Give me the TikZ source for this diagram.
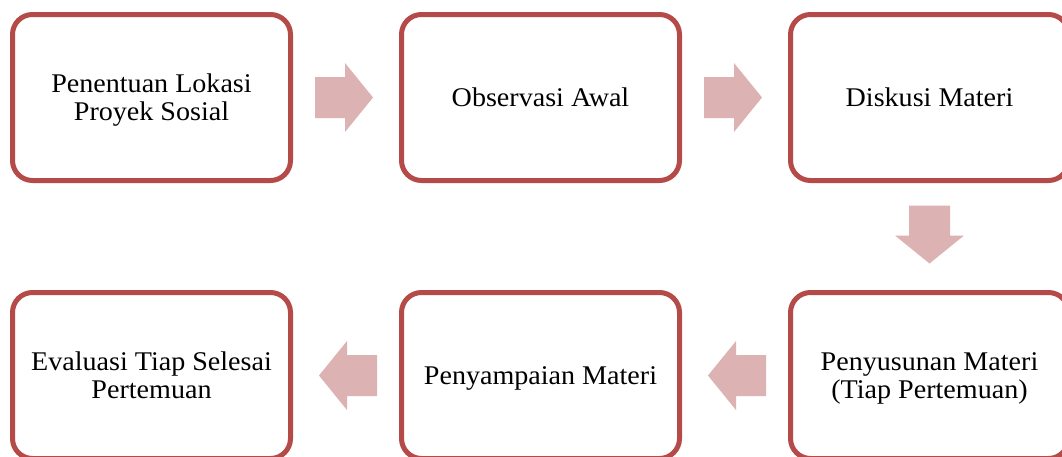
\documentclass[tikz,border=0pt]{standalone}
\usepackage{fontspec}
\setmainfont[FakeStretch=1.04]{Liberation Serif}
\usetikzlibrary{calc}
\definecolor{boxred}{HTML}{B54B48}
\definecolor{arrowpink}{HTML}{DCB2B2}
\begin{document}
\begin{tikzpicture}[x=1pt,y=-1pt,
  stepbox/.style={draw=boxred, line width=5pt, rounded corners=20pt, fill=white,
    minimum width=278pt, minimum height=166pt, align=center,
    font=\fontsize{27pt}{28pt}\selectfont, text=black, inner sep=0pt, text depth=0pt},
  blockarrow/.style={fill=arrowpink, draw=none}]
\clip (0,0) rectangle (1062,456);
\fill[white] (0,0) rectangle (1062,456);
\node[stepbox] (b1) at (151.5,97.5) {Penentuan Lokasi\\Proyek Sosial};
\node[stepbox] (b2) at (540.5,97.5) {Observasi Awal};
\node[stepbox] (b3) at (929.5,97.5) {Diskusi Materi};
\node[stepbox] (b4) at (151.5,375.5) {Evaluasi Tiap Selesai\\Pertemuan};
\node[stepbox] (b5) at (540.5,375.5) {Penyampaian Materi};
\node[stepbox] (b6) at (929.5,375.5) {Penyusunan Materi\\(Tiap Pertemuan)};
\coordinate (m12) at ($(b1.east)!0.5!(b2.west)$);
\coordinate (m23) at ($(b2.east)!0.5!(b3.west)$);
\coordinate (m36) at ($(b3.south)!0.5!(b6.north)$);
\coordinate (m65) at ($(b6.west)!0.5!(b5.east)$);
\coordinate (m54) at ($(b5.west)!0.5!(b4.east)$);
\foreach \m/\r in {m12/0, m23/0, m36/-90, m65/180, m54/180}{
  \fill[blockarrow, shift={(\m)}, rotate=\r]
    (-31,-20.5) -- (-1,-20.5) -- (-1,-34.5) -- (27,0) -- (-1,34.5) -- (-1,20.5) -- (-31,20.5) -- cycle;
}
\end{tikzpicture}
\end{document}
